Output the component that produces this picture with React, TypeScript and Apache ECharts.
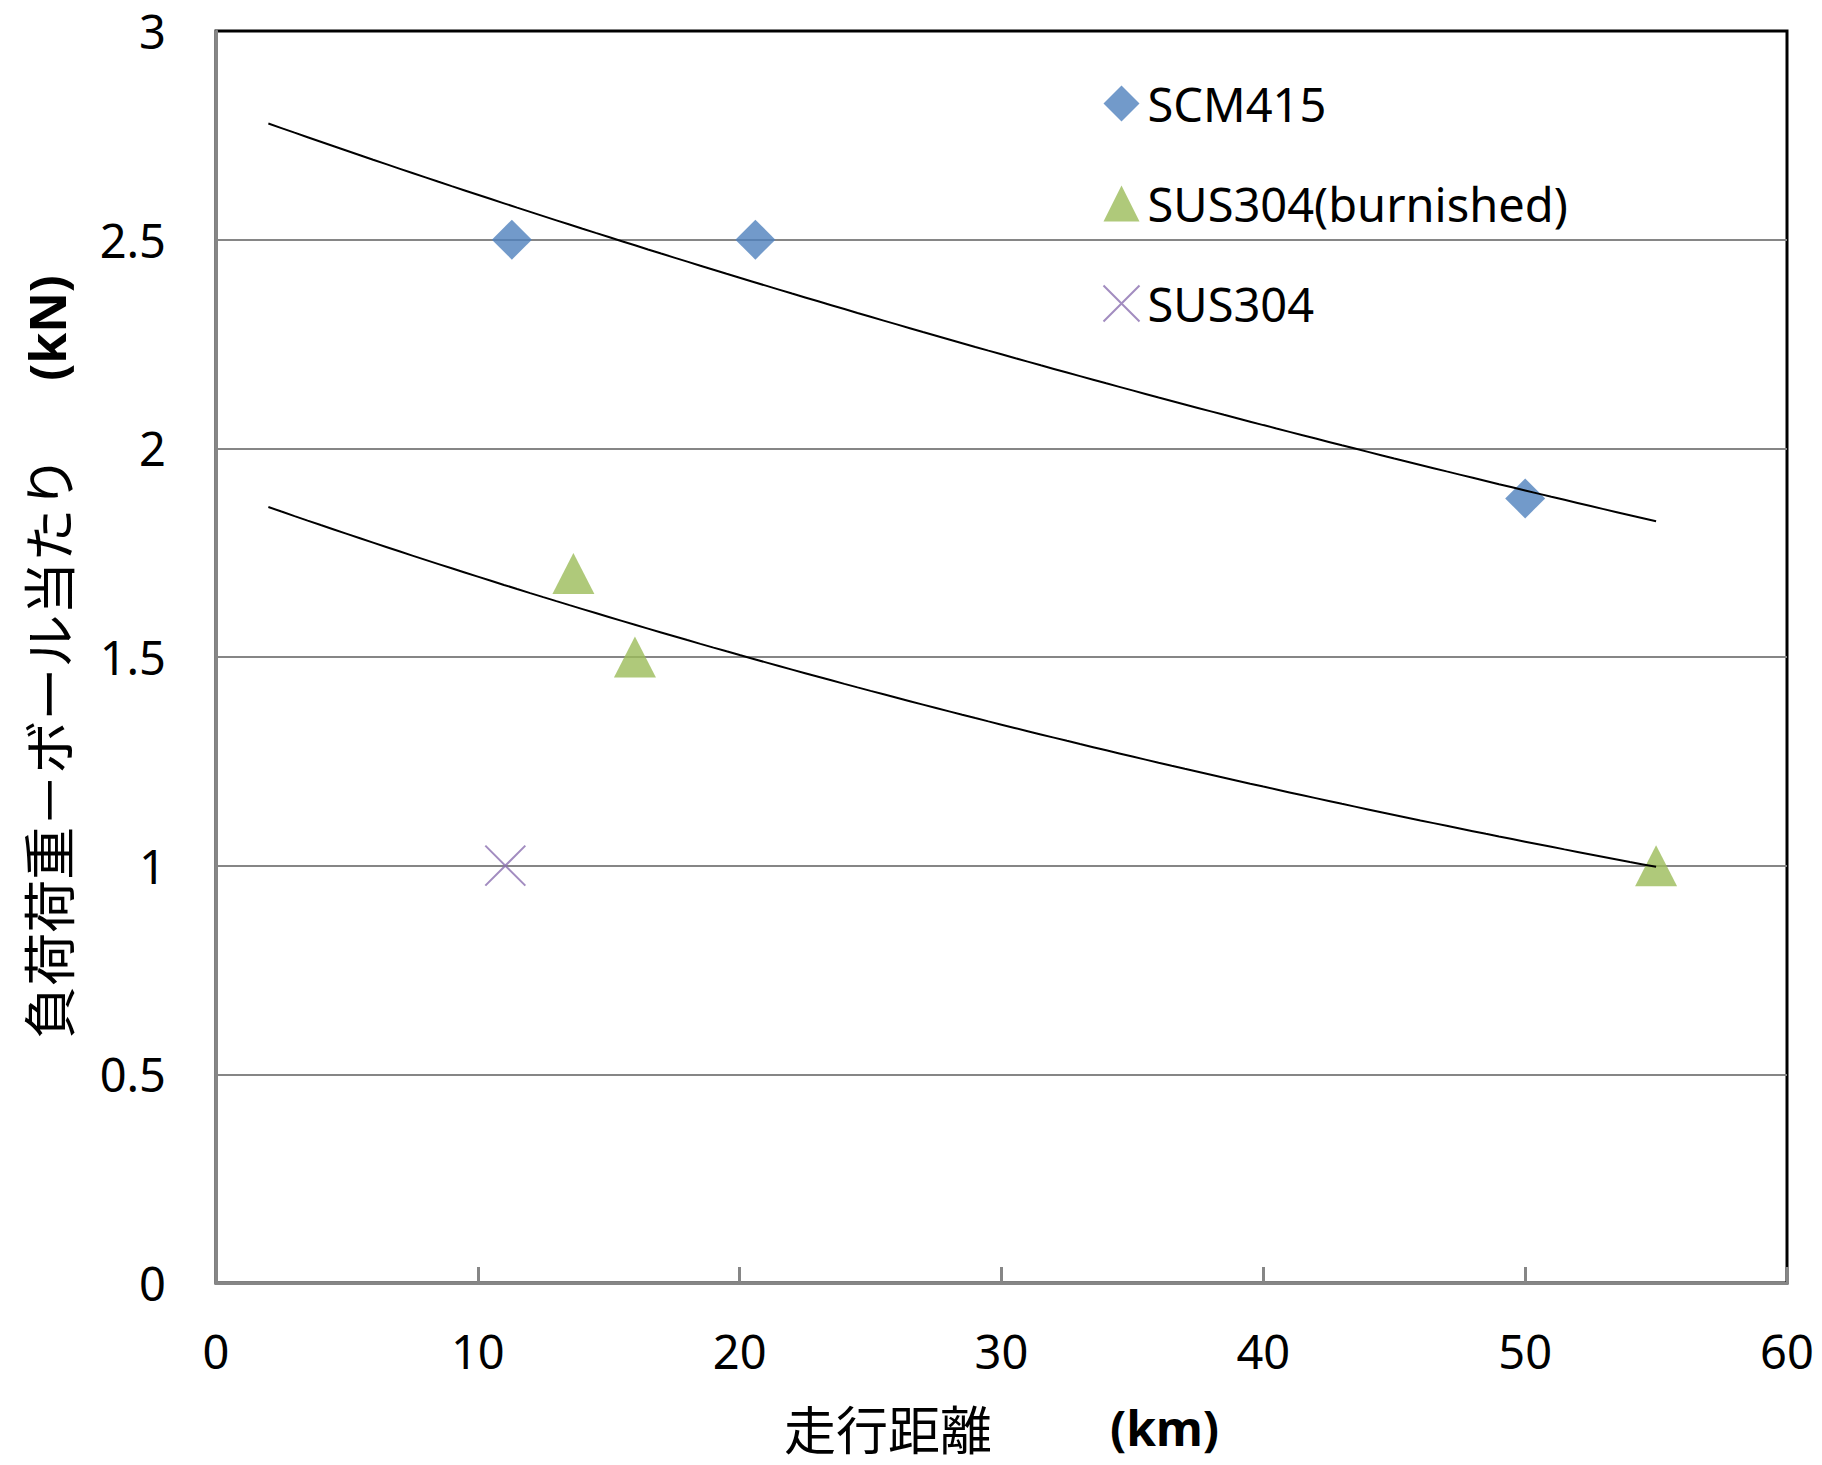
import React, { useEffect, useRef } from "react";
import * as echarts from "echarts";

// ---- data ----
const scm415X = [11.3, 20.6, 50.0];
const scm415Y = [2.5, 2.5, 1.88];
const burnishedX = [13.65, 16.0, 55.0];
const burnishedY = [1.7, 1.5, 1.0];
const sus304X = [11.05];
const sus304Y = [1.0];

const seriesNames = ["SCM415", "SUS304(burnished)", "SUS304"];
const xTickValues = [0, 10, 20, 30, 40, 50, 60];
const yTickValues = [0, 0.5, 1, 1.5, 2, 2.5, 3];
const trendRange = [2, 55];

const xTitleJa = "走行距離";
const xTitleUnit = "(km)";
const yTitleJa = "負荷荷重－ボール当たり";
const yTitleUnit = "(kN)";

// exponential least-squares trendline (as in a spreadsheet's exponential trendline)
function expFit(xs: number[], ys: number[]) {
  const n = xs.length;
  const ly = ys.map((v) => Math.log(v));
  const mx = xs.reduce((a, b) => a + b, 0) / n;
  const my = ly.reduce((a, b) => a + b, 0) / n;
  let sxx = 0;
  let sxy = 0;
  for (let i = 0; i < n; i++) {
    sxx += (xs[i] - mx) ** 2;
    sxy += (xs[i] - mx) * (ly[i] - my);
  }
  const b = sxy / sxx;
  const a = Math.exp(my - b * mx);
  return (x: number) => a * Math.exp(b * x);
}

function trendPoints(xs: number[], ys: number[]) {
  const f = expFit(xs, ys);
  const pts: number[][] = [];
  const steps = 106;
  for (let i = 0; i <= steps; i++) {
    const x = trendRange[0] + ((trendRange[1] - trendRange[0]) * i) / steps;
    pts.push([x, f(x)]);
  }
  return pts;
}

const zip = (xs: number[], ys: number[]) => xs.map((x, i) => [x, ys[i]]);

const BLUE = "#4F81BD";
const GREEN = "#9BBB59";
const PURPLE = "#8B6FB0";
const GRAY = "#868686";
const LATIN = "'Noto Sans', 'Open Sans', sans-serif";
const CJK = "'Noto Sans CJK JP', 'Noto Sans', sans-serif";
const CROSS = "path://M0,0L10,10M10,0L0,10";

export default function App() {
  const ref = useRef<HTMLDivElement>(null);

  useEffect(() => {
    if (!ref.current) return;
    const chart = echarts.init(ref.current, null, { renderer: "svg" });
    chart.setOption({
      animation: false,
      backgroundColor: "#ffffff",
      textStyle: { fontFamily: LATIN, color: "#000" },
      grid: {
        left: 216,
        right: 35,
        top: 31,
        bottom: 182,
        show: true,
        borderColor: "#000",
        borderWidth: 3,
        backgroundColor: "transparent",
        containLabel: false,
        outerBoundsMode: "none",
      },
      legend: {
        orient: "vertical",
        left: 1096,
        top: 75,
        itemWidth: 36,
        itemHeight: 36,
        itemGap: 53,
        textStyle: {
          fontFamily: LATIN,
          fontSize: 47,
          lineHeight: 46,
          color: "#000",
          padding: [0, 0, 0, 3],
        },
        data: [
          { name: seriesNames[0], icon: "diamond", itemStyle: { color: BLUE } },
          { name: seriesNames[1], icon: "triangle", itemStyle: { color: GREEN } },
          {
            name: seriesNames[2],
            icon: CROSS,
            itemStyle: { color: "none", borderColor: PURPLE, borderWidth: 2 },
          },
        ],
      },
      xAxis: {
        type: "value",
        min: xTickValues[0],
        max: xTickValues[xTickValues.length - 1],
        interval: 10,
        axisLine: { show: true, onZero: false, lineStyle: { color: GRAY, width: 3 } },
        axisTick: { show: true, inside: true, length: 16, lineStyle: { color: GRAY, width: 3 } },
        splitLine: { show: false },
        axisLabel: { fontFamily: LATIN, fontSize: 47, color: "#000", margin: 44 },
        name: `{a|${xTitleJa}}{s|}{b|${xTitleUnit}}`,
        nameLocation: "middle",
        nameGap: 120,
        nameTextStyle: {
          lineHeight: 48,
          rich: {
            a: { fontFamily: CJK, fontSize: 52, lineHeight: 48, color: "#000" },
            s: { width: 118, lineHeight: 48 },
            b: { fontFamily: LATIN, fontSize: 48, fontWeight: "bold", lineHeight: 48, color: "#000" },
          },
        },
      },
      yAxis: {
        type: "value",
        min: yTickValues[0],
        max: yTickValues[yTickValues.length - 1],
        interval: 0.5,
        axisLine: { show: true, lineStyle: { color: GRAY, width: 3 } },
        axisTick: { show: false },
        splitLine: {
          show: true,
          showMinLine: false,
          showMaxLine: false,
          lineStyle: { color: GRAY, width: 2 },
        },
        axisLabel: { fontFamily: LATIN, fontSize: 47, color: "#000", margin: 50 },
        name: `{a|${yTitleJa}}{s|}{b|${yTitleUnit}}`,
        nameLocation: "middle",
        nameRotate: 90,
        nameGap: 143,
        nameTextStyle: {
          rich: {
            a: { fontFamily: CJK, fontSize: 53, color: "#000" },
            s: { width: 75 },
            b: { fontFamily: LATIN, fontSize: 50, fontWeight: "bold", color: "#000" },
          },
        },
      },
      series: [
        {
          name: seriesNames[0],
          type: "scatter",
          symbol: "diamond",
          symbolSize: 40,
          itemStyle: { color: BLUE },
          data: zip(scm415X, scm415Y),
          z: 2,
        },
        {
          name: seriesNames[1],
          type: "scatter",
          symbol: "triangle",
          symbolSize: [42, 41],
          itemStyle: { color: GREEN },
          data: zip(burnishedX, burnishedY),
          z: 2,
        },
        {
          name: seriesNames[2],
          type: "scatter",
          symbol: CROSS,
          symbolSize: 40,
          itemStyle: { color: "none", borderColor: PURPLE, borderWidth: 2 },
          data: zip(sus304X, sus304Y),
          z: 2,
        },
        {
          name: "trend-scm415",
          type: "line",
          showSymbol: false,
          symbol: "none",
          smooth: false,
          lineStyle: { color: "#000", width: 2 },
          data: trendPoints(scm415X, scm415Y),
          z: 3,
          silent: true,
        },
        {
          name: "trend-burnished",
          type: "line",
          showSymbol: false,
          symbol: "none",
          smooth: false,
          lineStyle: { color: "#000", width: 2 },
          data: trendPoints(burnishedX, burnishedY),
          z: 3,
          silent: true,
        },
      ],
    });
    return () => chart.dispose();
  }, []);

  return (
    <div
      ref={ref}
      style={{ position: "absolute", left: 0, top: 0, width: 1822, height: 1465 }}
    />
  );
}
